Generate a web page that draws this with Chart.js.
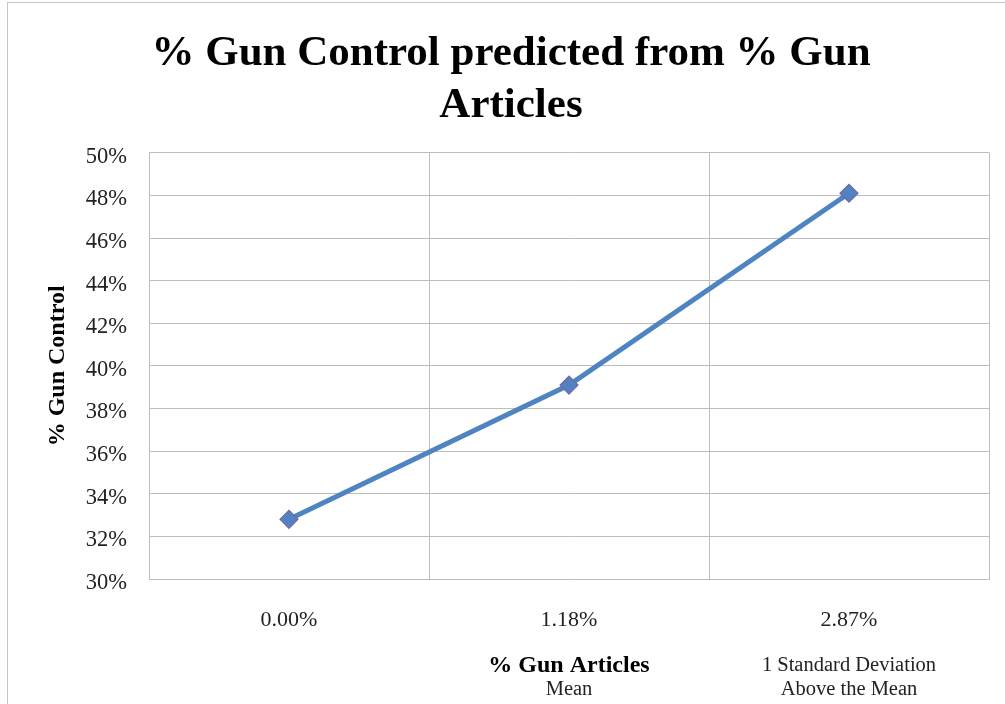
<!DOCTYPE html>
<html>
<head>
<meta charset="utf-8">
<script src="https://cdn.jsdelivr.net/npm/chart.js@4.4.1/dist/chart.umd.min.js"></script>
<style>
  html, body { margin: 0; padding: 0; background: #fff; overflow: hidden; }
  #frame {
    position: absolute; left: 7px; top: 2px;
    width: 1005px; height: 720px;
    border: 1px solid #c6c6c6; background: #fff;
  }
  #chart { display: block; }
</style>
</head>
<body>
<div id="frame"><canvas id="chart" width="1005" height="701"></canvas></div>
<script>
// Predicted share of gun-control stories at three levels of gun-article coverage
const categories = ['0.00%', '1.18%', '2.87%'];
const gunControl = [32.8, 39.1, 48.1];
const yMin = 30, yMax = 50, yStep = 2;
// Extra descriptions printed under each category, one entry per text row
const categoryNotes = [[], ['', 'Mean'], ['1 Standard Deviation', 'Above the Mean']];

const SERIF = "'Liberation Serif', 'Times New Roman', serif";
const GRID = '#bdbdbd';

// Draws the category descriptions beneath the x-axis title row
const notesPlugin = {
  id: 'categoryNotes',
  afterDraw(chart) {
    const x = chart.scales.x;
    const ctx = chart.ctx;
    const row0 = x.bottom - 24 - 14.4;
    const rowH = 24;
    ctx.save();
    ctx.font = '20.5px ' + SERIF;
    ctx.fillStyle = '#222';
    ctx.textAlign = 'center';
    ctx.textBaseline = 'middle';
    categoryNotes.forEach((rows, i) => {
      const px = x.getPixelForValue(i);
      rows.forEach((t, k) => { if (t) ctx.fillText(t, px, row0 + k * rowH); });
    });
    ctx.restore();
  }
};

new Chart(document.getElementById('chart'), {
  type: 'line',
  data: {
    labels: categories,
    datasets: [{
      data: gunControl,
      borderColor: '#4f84c2',
      borderWidth: 5,
      backgroundColor: '#4f81bd',
      pointStyle: 'rectRot',
      pointRadius: 9,
      pointBackgroundColor: '#5283c0',
      pointBorderColor: '#7268a8',
      pointBorderWidth: 1.2,
      tension: 0,
      fill: false
    }]
  },
  options: {
    responsive: false,
    animation: false,
    layout: { padding: { left: 25, right: 24, top: 0, bottom: 0 } },
    plugins: {
      legend: { display: false },
      tooltip: { enabled: false },
      title: {
        display: true,
        text: ['% Gun Control predicted from % Gun', 'Articles'],
        color: '#000',
        font: { family: SERIF, size: 43, weight: 'bold', lineHeight: 1.23 },
        padding: { top: 24, bottom: 20 }
      }
    },
    scales: {
      x: {
        offset: true,
        grid: { offset: true, color: GRID, lineWidth: 1, drawTicks: false },
        border: { color: GRID, width: 1 },
        ticks: { color: '#222', padding: 28, font: { family: SERIF, size: 22 } },
        title: {
          display: true,
          text: '% Gun Articles',
          color: '#000',
          font: { family: SERIF, size: 24, weight: 'bold', lineHeight: 1.2 },
          padding: { top: 0, bottom: 24 }
        },
        afterFit(s) { s.height = 125; }
      },
      y: {
        min: yMin,
        max: yMax,
        grid: { color: GRID, lineWidth: 1, drawTicks: false },
        border: { color: GRID, width: 1 },
        ticks: {
          stepSize: yStep,
          color: '#222',
          padding: 22,
          labelOffset: 4,
          font: { family: SERIF, size: 22.5 },
          callback: v => v + '%'
        },
        title: {
          display: true,
          text: '% Gun Control',
          color: '#000',
          font: { family: SERIF, size: 24, weight: 'bold', lineHeight: 1.2 },
          padding: { top: 10, bottom: 0 }
        },
        afterFit(s) { s.width = 116; }
      }
    }
  },
  plugins: [notesPlugin]
});
</script>
</body>
</html>
